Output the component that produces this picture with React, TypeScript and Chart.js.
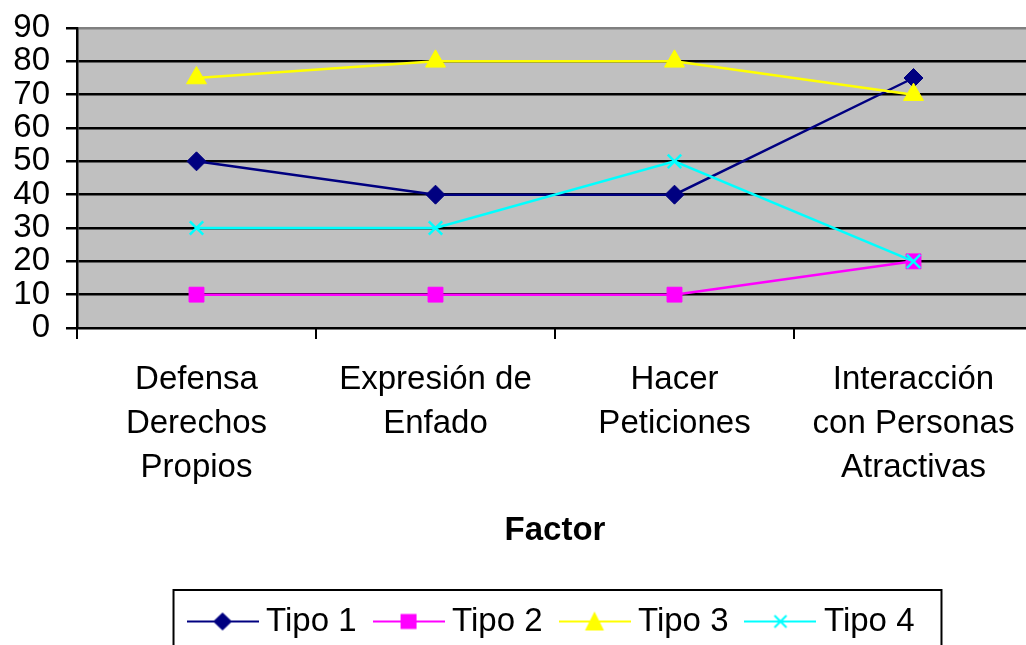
import React, { useEffect, useRef } from 'react';
import { Chart, registerables } from 'chart.js';

Chart.register(...registerables);

const categories: string[][] = [
  ['Defensa', 'Derechos', 'Propios'],
  ['Expresión de', 'Enfado'],
  ['Hacer', 'Peticiones'],
  ['Interacción', 'con Personas', 'Atractivas'],
];
const seriesNames = ['Tipo 1', 'Tipo 2', 'Tipo 3', 'Tipo 4'];
const tipo1 = [50, 40, 40, 75];
const tipo2 = [10, 10, 10, 20];
const tipo3 = [75, 80, 80, 70];
const tipo4 = [30, 30, 50, 20];
const yMin = 0;
const yMax = 90;
const yStep = 10;
const xTitle = 'Factor';

const FONT = '"Liberation Sans", Arial, sans-serif';

function makeIcon(color: string, shape: string): HTMLCanvasElement {
  const c = document.createElement('canvas');
  c.width = 72;
  c.height = 24;
  const g = c.getContext('2d')!;
  const cx = 36;
  const cy = 12;
  g.strokeStyle = color;
  g.fillStyle = color;
  g.lineWidth = 2;
  g.beginPath();
  g.moveTo(0, cy);
  g.lineTo(72, cy);
  g.stroke();
  g.beginPath();
  if (shape === 'diamond') {
    g.moveTo(cx - 9.5, cy);
    g.lineTo(cx, cy - 9);
    g.lineTo(cx + 9.5, cy);
    g.lineTo(cx, cy + 9);
    g.closePath();
    g.fill();
  } else if (shape === 'square') {
    g.rect(cx - 8, cy - 7.5, 16, 15);
    g.fill();
  } else if (shape === 'triangle') {
    g.moveTo(cx, cy - 10);
    g.lineTo(cx + 9.5, cy + 9);
    g.lineTo(cx - 9.5, cy + 9);
    g.closePath();
    g.fill();
  } else {
    g.moveTo(cx - 6, cy - 6);
    g.lineTo(cx + 6, cy + 6);
    g.moveTo(cx + 6, cy - 6);
    g.lineTo(cx - 6, cy + 6);
    g.stroke();
  }
  return c;
}

export default function App() {
  const ref = useRef<HTMLCanvasElement>(null);

  useEffect(() => {
    if (!ref.current) return;
    const colors = ['#000080', '#FF00FF', '#FFFF00', '#00FFFF'];
    const shapes = ['diamond', 'square', 'triangle', 'cross'];
    const icons = colors.map((c, i) => makeIcon(c, shapes[i]));
    const values = [tipo1, tipo2, tipo3, tipo4];
    const pointStyles = ['rectRot', 'rect', 'triangle', 'crossRot'];
    const radii = [9.5, 10.5, 11.5, 9.5];

    const bgPlugin = {
      id: 'plotBg',
      beforeDraw(chart: any) {
        const { ctx, chartArea } = chart;
        ctx.save();
        ctx.fillStyle = '#C0C0C0';
        ctx.fillRect(chartArea.left, chartArea.top, chartArea.right - chartArea.left, chartArea.bottom - chartArea.top);
        ctx.restore();
      },
    };

    const legendBox = {
      id: 'legendBox',
      afterDraw(chart: any) {
        const lg = chart.legend;
        if (!lg || !lg.legendHitBoxes || !lg.legendHitBoxes.length) return;
        const hb = lg.legendHitBoxes;
        const first = hb[0];
        const last = hb[hb.length - 1];
        const left = first.left - 22;
        const right = last.left + last.width + 27;
        const top = first.top - 15;
        const bottom = first.top + first.height + 40;
        const ctx = chart.ctx;
        ctx.save();
        ctx.strokeStyle = '#000';
        ctx.lineWidth = 2;
        ctx.strokeRect(left, top, right - left, bottom - top);
        ctx.restore();
      },
    };

    const chart = new Chart(ref.current, {
      type: 'line',
      data: {
        labels: categories,
        datasets: values.map((v, i) => ({
          label: seriesNames[i],
          data: v,
          borderColor: colors[i],
          backgroundColor: colors[i],
          borderWidth: 2.5,
          pointStyle: pointStyles[i] as any,
          pointRadius: radii[i],
          pointHoverRadius: radii[i],
          pointBorderWidth: i === 3 ? 2.5 : 1,
          pointBackgroundColor: colors[i],
          pointBorderColor: colors[i],
          tension: 0,
          fill: false,
          order: 3 - i,
        })),
      },
      options: {
        responsive: false,
        animation: false,
        events: [],
        layout: { autoPadding: false, padding: { top: 28, left: 0, right: 0, bottom: 0 } },
        font: { family: FONT },
        plugins: {
          tooltip: { enabled: false },
          legend: {
            display: true,
            position: 'bottom',
            fullSize: false,
            labels: {
              usePointStyle: true,
              pointStyleWidth: 54,
              padding: 25,
              color: '#000',
              font: { family: FONT, size: 33 },
              generateLabels(chart: any) {
                const items = Chart.defaults.plugins.legend.labels.generateLabels(chart);
                return items
                  .sort((a: any, b: any) => a.datasetIndex - b.datasetIndex)
                  .map((it: any) => ({ ...it, pointStyle: icons[it.datasetIndex] }));
              },
            },
          },
        },
        scales: {
          x: {
            type: 'category',
            offset: true,
            grid: {
              display: true,
              offset: true,
              drawOnChartArea: false,
              drawTicks: true,
              tickLength: 11,
              color: '#000',
              lineWidth: 2,
            },
            border: { display: true, color: '#000', width: 2 },
            ticks: {
              color: '#000',
              font: { family: FONT, size: 33, lineHeight: 44 / 33 },
              padding: 19,
              maxRotation: 0,
              minRotation: 0,
              autoSkip: false,
            },
            title: {
              display: true,
              text: xTitle,
              color: '#000',
              font: { family: FONT, size: 33, weight: 'bold' },
              padding: { top: 20, bottom: 29 },
            },
            afterFit(s: any) {
              s.height = 252;
              s.paddingLeft = 0;
              s.paddingRight = 0;
            },
          },
          y: {
            min: yMin,
            max: yMax,
            grid: {
              color: (c: any) => (c.tick && c.tick.value === yMax ? '#808080' : '#000'),
              tickColor: '#000',
              lineWidth: 2.5,
              drawTicks: true,
              tickLength: 11,
            },
            border: { display: true, color: '#000', width: 2.5 },
            ticks: {
              stepSize: yStep,
              autoSkip: false,
              color: '#000',
              font: { family: FONT, size: 33 },
              padding: 16,
            },
            afterFit(s: any) {
              s.width = 77;
              s.paddingTop = 0;
              s.paddingBottom = 0;
            },
          },
        },
      },
      plugins: [bgPlugin, legendBox],
    });
    return () => chart.destroy();
  }, []);

  return (
    <div
      style={{
        position: 'fixed',
        left: 0,
        top: 0,
        width: 1026,
        height: 645,
        overflow: 'hidden',
        background: '#fff',
      }}
    >
      <canvas ref={ref} width={1033} height={648} style={{ display: 'block' }} />
    </div>
  );
}
